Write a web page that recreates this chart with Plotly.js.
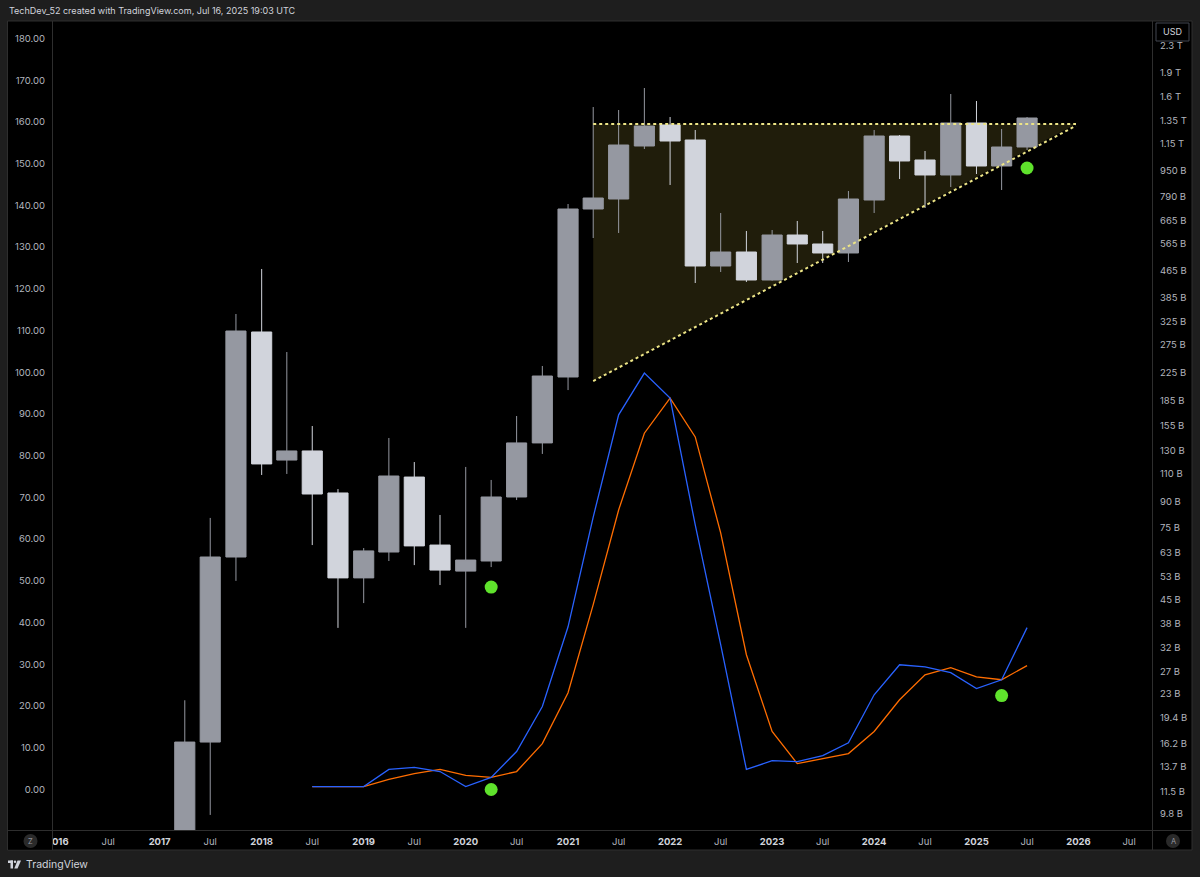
<!DOCTYPE html>
<html><head><meta charset="utf-8">
<script src="https://cdn.plot.ly/plotly-3.0.1.min.js"></script>
<style>html,body{margin:0;padding:0;background:#1e1e1e;}#chart{width:1200px;height:877px;}</style>
</head><body><div id="chart"></div>
<script>
// ---- data (market cap in billions USD, quarterly candles) ----
const quarters = ['2017-04-01','2017-07-01','2017-10-01',
 '2018-01-01','2018-04-01','2018-07-01','2018-10-01',
 '2019-01-01','2019-04-01','2019-07-01','2019-10-01',
 '2020-01-01','2020-04-01','2020-07-01','2020-10-01',
 '2021-01-01','2021-04-01','2021-07-01','2021-10-01',
 '2022-01-01','2022-04-01','2022-07-01','2022-10-01',
 '2023-01-01','2023-04-01','2023-07-01','2023-10-01',
 '2024-01-01','2024-04-01','2024-07-01','2024-10-01',
 '2025-01-01','2025-04-01','2025-07-01'];
const openB  = [7.5,16.35,60.9, 301.4,121.3,129.4,96.0, 52.5,63.1,107.5,66.3, 55.1,59.2,93.3,137.0, 218.9,722.3,775.5,1130.2, 1312.2,1179.5,481.7,532.1, 436.1,600.4,563.3,528.4, 770.0,1213.5,1023.3,919.8, 1331.0,980.5,1122.2];
const highB  = [22.0,80.4,342.5, 471.6,261.4,154.5,98.7, 64.9,141.9,119.6,82.1, 115.5,105.3,165.9,236.7, 748.4,1491,1459.8,1706.8, 1388.9,1266.4,702.1,617.8, 622.2,663.3,617.8,820.9, 1266.4,1222.1,1090.8,1635.5, 1556.1,1275.4,1388.9];
const lowB   = [7.3,9.74,51.4, 109.1,109.9,66.3,36.8, 43.9,59.2,57.5,49.9, 36.8,56.7,91.3,126.7, 199.5,587.8,609.1,1106.4, 856.7,426.9,461.6,430.0, 434.0,492.1,492.1,495.6, 702.1,894.0,727.5,844.6, 926.3,826.8,1098.6];
const closeB = [16.35,60.9,303.5, 118.0,129.4,95.3,52.5, 63.6,108.3,65.9,55.5, 59.6,93.3,137.0,220.4, 722.3,781.0,1138.3,1302.9, 1171.1,481.7,532.1,436.1, 600.4,563.3,528.4,775.5, 1213.5,1016.0,919.8,1331.0, 980.5,1122.2,1379.1];

// Stoch RSI (left scale)
const stochDates = quarters.slice(5);
const stochK = [0.7,0.7,0.7,4.8,5.3,4.3,0.7,2.9,9.1,19.9,39.0,65.3,89.8,99.8,93.8,63.4,34.7,4.8,6.9,6.7,8.1,11.2,22.7,29.9,29.4,28.0,24.2,26.3,38.8];
const stochD = [0.7,0.7,0.7,2.4,3.8,4.8,3.4,2.9,4.3,11.0,23.2,44.3,67.0,85.4,93.8,84.5,61.5,32.3,13.9,6.2,7.4,8.6,13.9,21.5,27.5,29.2,27.0,26.3,29.7];

// signal dots
const priceSignalDates = ['2020-04-01','2025-07-01'];
const priceSignalB = [49.2, 966.7];
const stochSignalDates = ['2020-04-01','2025-04-01'];
const stochSignal = [0.0, 22.5];

// ascending triangle drawing
const triDates = ['2021-04-01','2025-12-23'];
const triTopB = [1321.5, 1321.5];
const triLowB = [212.7, 1305];

// axis ticks
const leftTicks = [0,10,20,30,40,50,60,70,80,90,100,110,120,130,140,150,160,170,180];
const rightTicksB = [2300,1900,1600,1350,1150,950,790,665,565,465,385,325,275,225,185,155,130,110,90,75,63,53,45,38,32,27,23,19.4,16.2,13.7,11.5,9.8];
const rightLabels = ['2.3 T','1.9 T','1.6 T','1.35 T','1.15 T','950 B','790 B','665 B','565 B','465 B','385 B','325 B','275 B','225 B','185 B','155 B','130 B','110 B','90 B','75 B','63 B','53 B','45 B','38 B','32 B','27 B','23 B','19.4 B','16.2 B','13.7 B','11.5 B','9.8 B'];
const timeTicks = ['2016-01-01','2016-07-01','2017-01-01','2017-07-01','2018-01-01','2018-07-01','2019-01-01','2019-07-01','2020-01-01','2020-07-01','2021-01-01','2021-07-01','2022-01-01','2022-07-01','2023-01-01','2023-07-01','2024-01-01','2024-07-01','2025-01-01','2025-07-01','2026-01-01','2026-07-01'];
const timeLabels = ['2016','Jul','2017','Jul','2018','Jul','2019','Jul','2020','Jul','2021','Jul','2022','Jul','2023','Jul','2024','Jul','2025','Jul','2026','Jul'];

// ---- geometry helpers (pixel -> paper) ----
const L = 52, R = 1153, T = 21, B = 830;
const px = x => (x - L) / (R - L);
const py = y => (B - y) / (B - T);

const UP = '#9598a1', DOWN = '#d1d4dc', GREEN = '#5fe22c';
const LOGRANGE = [0.942062, 3.438976];

const data = [
  {type:'scatter', mode:'lines', x:stochDates, y:stochD, yaxis:'y', line:{color:'#ff6d00', width:1.3}, hoverinfo:'skip'},
  {type:'scatter', mode:'lines', x:stochDates, y:stochK, yaxis:'y', line:{color:'#2962ff', width:1.3}, hoverinfo:'skip'},
  {type:'scatter', mode:'markers', x:stochSignalDates, y:stochSignal, yaxis:'y', marker:{color:GREEN, size:13}, hoverinfo:'skip'},
  {type:'scatter', mode:'lines', x:[triDates[0], triDates[1], triDates[0], triDates[0]], y:[triTopB[0], triTopB[1], triLowB[0], triTopB[0]], yaxis:'y2', fill:'toself', fillcolor:'#201d0b', line:{width:0, color:'rgba(0,0,0,0)'}, hoverinfo:'skip'},
  {type:'candlestick', x:quarters, open:openB, high:highB, low:lowB, close:closeB, yaxis:'y3',
    increasing:{line:{color:UP, width:1}, fillcolor:UP},
    decreasing:{line:{color:DOWN, width:1}, fillcolor:DOWN}, hoverinfo:'skip'},
  {type:'scatter', mode:'lines', x:triDates, y:triTopB, yaxis:'y3', line:{color:'#ece486', width:2, dash:'dot'}, hoverinfo:'skip'},
  {type:'scatter', mode:'lines', x:triDates, y:triLowB, yaxis:'y3', line:{color:'#ece486', width:2, dash:'dot'}, hoverinfo:'skip'},
  {type:'scatter', mode:'markers', x:priceSignalDates, y:priceSignalB, yaxis:'y3', marker:{color:GREEN, size:13}, hoverinfo:'skip'}
];

const yearSpan = t => t === 'Jul' ? '<span style="color:#b2b5be">Jul</span>' : '<b>' + t + '</b>';

const layout = {
  width:1200, height:877,
  margin:{l:L, r:1200-R, t:T, b:877-B, pad:0},
  paper_bgcolor:'#1e1e1e', plot_bgcolor:'#000000',
  font:{family:'Inter, Roboto, sans-serif', size:9.5, color:'#b2b5be'},
  showlegend:false, hovermode:false, dragmode:false,
  boxgap:0.2, boxgroupgap:0,
  xaxis:{type:'date', range:['2015-12-13','2026-09-24 12:00'], rangeslider:{visible:false}, tickmode:'array', tickvals:timeTicks, ticktext:timeLabels.map(yearSpan),
    showgrid:false, zeroline:false, showline:false, ticks:'', tickangle:0, tickfont:{size:9.5, color:'#d1d4dc'}, ticklabelstandoff:4, fixedrange:true},
  yaxis:{range:[-9.71, 184.2], tickmode:'array', tickvals:leftTicks, ticktext:leftTicks.map(v=>v.toFixed(2)),
    showgrid:false, zeroline:false, showline:false, ticks:'', tickfont:{size:9.5, color:'#b2b5be'}, ticklabelstandoff:6, fixedrange:true},
  yaxis2:{type:'log', overlaying:'y', side:'right', range:LOGRANGE, tickmode:'array', tickvals:rightTicksB, ticktext:rightLabels,
    showgrid:false, zeroline:false, showline:false, ticks:'', tickfont:{size:9.5, color:'#b2b5be'}, ticklabelstandoff:6, fixedrange:true},
  yaxis3:{type:'log', overlaying:'y', side:'right', range:LOGRANGE, visible:false, showgrid:false, fixedrange:true},
  shapes:[
    {type:'rect', xref:'paper', yref:'paper', x0:px(7.5), x1:px(1192), y0:py(21), y1:py(850), fillcolor:'#000', line:{color:'#2e2e2e', width:1}, layer:'below'},
    {type:'rect', xref:'paper', yref:'paper', x0:px(8), x1:px(52), y0:py(831), y1:py(849.5), fillcolor:'#000', line:{width:0}, layer:'above'},
    {type:'line', xref:'paper', yref:'paper', x0:px(52.5), x1:px(52.5), y0:py(21), y1:py(850), line:{color:'#2e2e2e', width:1}, layer:'above'},
    {type:'line', xref:'paper', yref:'paper', x0:px(1152.5), x1:px(1152.5), y0:py(21), y1:py(850), line:{color:'#2e2e2e', width:1}, layer:'above'},
    {type:'line', xref:'paper', yref:'paper', x0:px(7.5), x1:px(1192), y0:py(830.5), y1:py(830.5), line:{color:'#2e2e2e', width:1}, layer:'above'},
    {type:'rect', xref:'paper', yref:'paper', x0:px(1156), x1:px(1189), y0:py(23), y1:py(41), fillcolor:'#000', line:{color:'#434651', width:1}, layer:'above'},
    {type:'circle', xref:'paper', yref:'paper', x0:px(23.5), x1:px(37.5), y0:py(834), y1:py(848), fillcolor:'#2a2a2a', line:{width:0}, layer:'above'},
    {type:'circle', xref:'paper', yref:'paper', x0:px(1166), x1:px(1180), y0:py(834), y1:py(848), fillcolor:'#2a2a2a', line:{width:0}, layer:'above'},
    // TradingView logo (footer)
    {type:'rect', xref:'paper', yref:'paper', x0:px(8), x1:px(13), y0:py(860.5), y1:py(863), fillcolor:'#d1d4dc', line:{width:0}, layer:'above'},
    {type:'rect', xref:'paper', yref:'paper', x0:px(10.5), x1:px(13), y0:py(860.5), y1:py(868.5), fillcolor:'#d1d4dc', line:{width:0}, layer:'above'},
    {type:'circle', xref:'paper', yref:'paper', x0:px(13.8), x1:px(16.2), y0:py(860.5), y1:py(862.9), fillcolor:'#d1d4dc', line:{width:0}, layer:'above'},
    {type:'path', xref:'paper', yref:'paper', path:'M '+px(17.5)+' '+py(860.5)+' L '+px(21)+' '+py(860.5)+' L '+px(17.5)+' '+py(868.5)+' L '+px(14.3)+' '+py(868.5)+' Z', fillcolor:'#d1d4dc', line:{width:0}, layer:'above'}
  ],
  annotations:[
    {xref:'paper', yref:'paper', x:px(7), y:py(11), xanchor:'left', yanchor:'middle', showarrow:false,
     text:'TechDev_52 created with TradingView.com, Jul 16, 2025 19:03 UTC', font:{size:9, color:'#d1d4dc'}},
    {xref:'paper', yref:'paper', x:px(1172.5), y:py(32), xanchor:'center', yanchor:'middle', showarrow:false, text:'USD', font:{size:9, color:'#d1d4dc'}},
    {xref:'paper', yref:'paper', x:px(30.5), y:py(841), xanchor:'center', yanchor:'middle', showarrow:false, text:'Z', font:{size:7.5, color:'#9598a1'}},
    {xref:'paper', yref:'paper', x:px(1173), y:py(841), xanchor:'center', yanchor:'middle', showarrow:false, text:'A', font:{size:7.5, color:'#9598a1'}},
    {xref:'paper', yref:'paper', x:px(24), y:py(864.5), xanchor:'left', yanchor:'middle', showarrow:false, text:'TradingView', font:{size:10.5, color:'#d1d4dc'}}
  ]
};

Plotly.newPlot('chart', data, layout, {staticPlot:true, displayModeBar:false});
</script>
</body></html>
